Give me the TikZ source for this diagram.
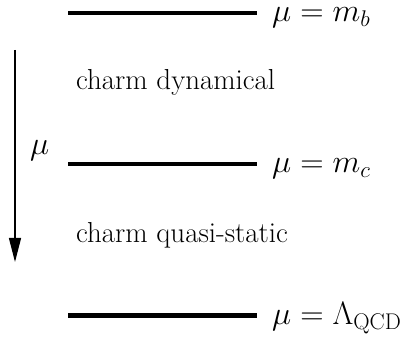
\RequirePackage{fix-cm}
\documentclass[tikz,border=0pt]{standalone}
\usetikzlibrary{arrows.meta}
\begin{document}
\begin{tikzpicture}[x=1pt,y=1pt,
  level/.style={line width=4.5pt},
  lbl/.style={anchor=base west,inner sep=0pt,font=\fontsize{32.4}{38}\selectfont},
  txt/.style={anchor=base west,inner sep=0pt,font=\fontsize{28.9}{34}\selectfont}]
\useasboundingbox (0,0) rectangle (405,340);
\coordinate (a1) at (68,327); \coordinate (b1) at (257,327);
\coordinate (a2) at (68,176); \coordinate (b2) at (257,176);
\coordinate (a3) at (68,24.5); \coordinate (b3) at (257,24.5);
\draw[level] (a1) -- (b1);
\draw[level] (a2) -- (b2);
\draw[level] (a3) -- (b3);
\node[lbl] (l1) at (272,318) {$\mu = m_b$};
\node[lbl] (l2) at (272,167) {$\mu = m_c$};
\node[lbl] (l3) at (272,15.5) {$\mu = \Lambda_{\mathrm{QCD}}$};
\node[txt] (t1) at (76,250) {charm dynamical};
\node[txt] (t2) at (76,97) {charm quasi-static};
\node[lbl] (mu) at (30,185) {$\mu$};
\coordinate (s) at (15,290); \coordinate (e) at (15,78);
\draw[line width=1.3pt,-{Triangle[length=24pt,width=12pt]}] (s) -- (e);
\end{tikzpicture}
\end{document}
